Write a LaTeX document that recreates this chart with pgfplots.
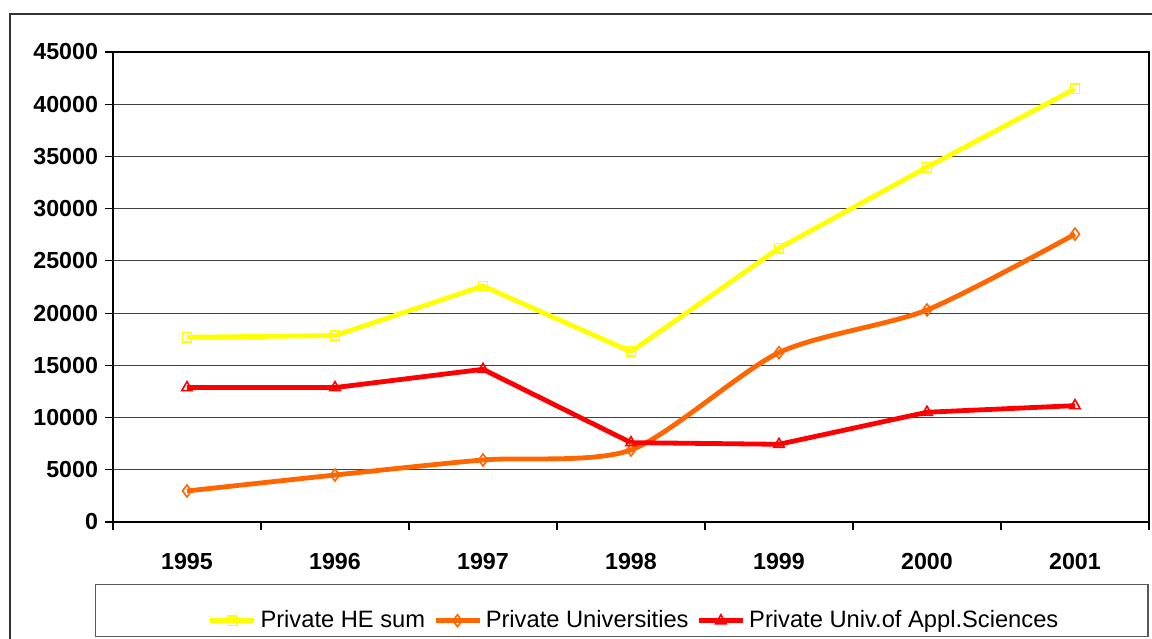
\documentclass[border=0pt]{standalone}
\usepackage{pgfplots}
\pgfplotsset{compat=1.18}
\usepackage{fontspec}
\setmainfont{Liberation Sans}
\definecolor{cyellow}{HTML}{FFFF00}
\definecolor{corange}{HTML}{FF6600}
\definecolor{cred}{HTML}{FF0000}
\begin{document}
\begin{tikzpicture}[x=1pt,y=1pt]
\useasboundingbox (0,0) rectangle (576,319);
\clip (0,0) rectangle (576,319);
\draw[black!80, line width=0.6pt] (5,312) rectangle (600,-20);
\draw[black!65, line width=0.6pt] (47.8,26.8) rectangle (574,0.7);
\begin{axis}[
  at={(56.5pt,58pt)}, anchor=south west,
  scale only axis, width=518pt, height=235pt,
  xmin=0, xmax=7, ymin=0, ymax=45000,
  xtick={0,...,7}, xticklabels={},
  extra x ticks={0.5,1.5,...,6.5},
  extra x tick labels={1995,1996,1997,1998,1999,2000,2001},
  extra x tick style={major tick length=0pt, grid=none,
     xticklabel style={anchor=base, yshift=-23.5pt}},
  ytick={0,5000,...,45000},
  tick pos=left, tick align=outside, major tick length=4pt,
  every tick/.style={black, line width=0.6pt},
  ymajorgrids, grid style={black!75, line width=0.5pt},
  axis line style={black, line width=0.8pt},
  scaled y ticks=false,
  yticklabel style={/pgf/number format/fixed, /pgf/number format/1000 sep={}},
  /pgf/number format/assume math mode=true,
  tick label style={font=\bfseries\fontsize{11.6}{13}\selectfont},
  legend columns=3,
  legend cell align=left,
  legend style={at={(0.504,-0.21)}, anchor=center, draw=none, fill=none,
    font=\fontsize{11.85}{14}\selectfont,
    /tikz/every even column/.append style={column sep=2pt}},
  legend image code/.code={\draw[mark repeat=2,mark phase=2] plot coordinates {(0cm,0cm)(0.385cm,0cm)(0.77cm,0cm)};},
]
\addplot[cyellow, line width=2.4pt, mark=square, mark size=2.3pt, mark options={line width=0.8pt, solid}]
  coordinates {(0.5,17690) (1.5,17850) (2.5,22600) (3.5,16310) (4.5,26220) (5.5,33970) (6.5,41480)};
\addlegendentry{Private HE sum}
\addplot[corange, line width=2.4pt, smooth, tension=0.45, mark=diamond, mark size=3pt, mark options={line width=0.8pt, solid}]
  coordinates {(0.5,2970) (1.5,4500) (2.5,5940) (3.5,6900) (4.5,16220) (5.5,20300) (6.5,27560)};
\addlegendentry{Private Universities}
\addplot[cred, line width=2.4pt, mark=triangle, mark size=3pt, mark options={line width=0.8pt, solid}]
  coordinates {(0.5,12870) (1.5,12870) (2.5,14620) (3.5,7600) (4.5,7440) (5.5,10510) (6.5,11140)};
\addlegendentry{Private Univ.of Appl.Sciences}
\end{axis}
\end{tikzpicture}
\end{document}
